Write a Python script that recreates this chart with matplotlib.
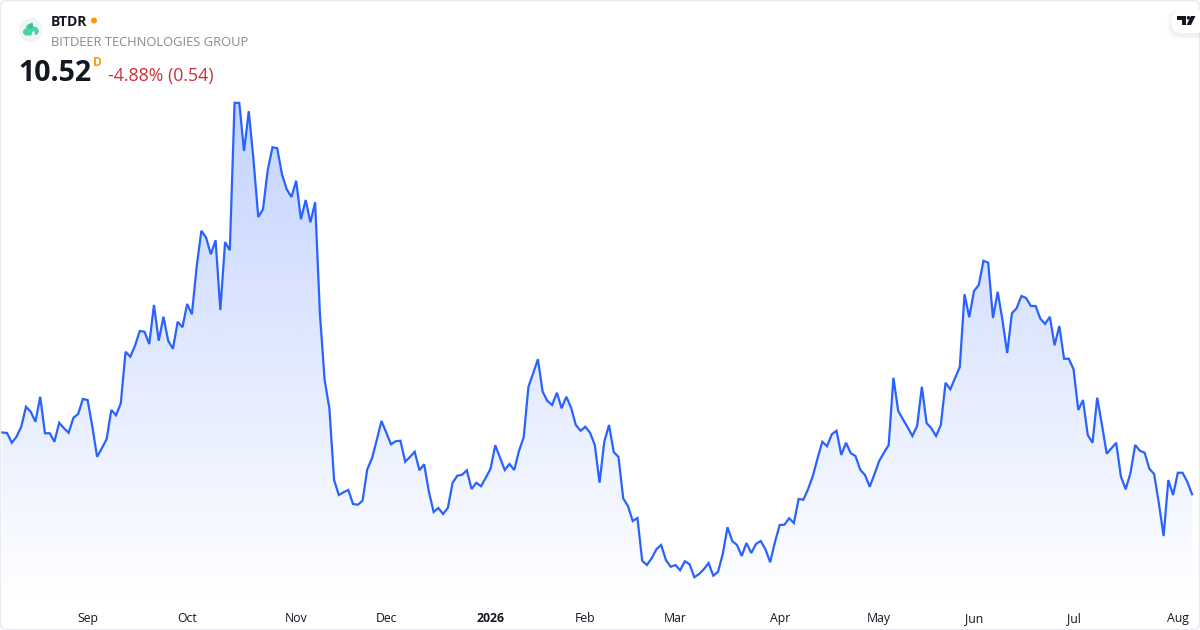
import matplotlib
matplotlib.use('Agg')
import matplotlib.pyplot as plt
import numpy as np
from matplotlib.patches import Circle, FancyBboxPatch, PathPatch, Polygon
from matplotlib.path import Path

# daily closes
prices = [
    12.99, 12.97, 12.58, 12.82, 13.22, 14.02, 13.82, 13.42, 14.42, 12.96, 12.96, 12.62,
    13.38, 13.16, 12.98, 13.58, 13.73, 14.33, 14.29, 13.22, 12.02, 12.36, 12.72, 13.89,
    13.68, 14.16, 16.22, 16.02, 16.46, 17.05, 17.02, 16.53, 18.09, 16.66, 17.62, 16.66,
    16.34, 17.42, 17.20, 18.13, 17.72, 19.62, 21.06, 20.78, 20.12, 20.68, 17.89, 20.61,
    20.28, 26.18, 26.17, 24.25, 25.84, 23.89, 21.61, 21.92, 23.49, 24.40, 24.36, 23.32,
    22.72, 22.41, 23.06, 21.52, 22.29, 21.40, 22.20, 17.76, 15.09, 13.96, 11.09, 10.49,
    10.60, 10.69, 10.13, 10.10, 10.26, 11.52, 11.96, 12.69, 13.45, 12.98, 12.52, 12.64,
    12.66, 11.82, 12.01, 12.22, 11.48, 11.72, 10.62, 9.81, 9.97, 9.73, 9.98, 10.98,
    11.26, 11.30, 11.48, 10.73, 10.98, 10.84, 11.18, 11.54, 12.48, 11.98, 11.49, 11.73,
    11.49, 12.25, 12.80, 14.82, 15.36, 15.92, 14.62, 14.25, 14.09, 14.58, 13.96, 14.42,
    13.98, 13.29, 13.06, 13.22, 12.98, 12.49, 10.98, 12.62, 13.29, 12.21, 12.01, 10.35,
    10.05, 9.45, 9.57, 7.86, 7.69, 7.96, 8.32, 8.49, 7.89, 7.62, 7.69, 7.48,
    7.84, 7.72, 7.20, 7.33, 7.52, 7.77, 7.26, 7.42, 8.13, 9.20, 8.65, 8.49,
    8.05, 8.57, 8.17, 8.53, 8.65, 8.32, 7.80, 8.60, 9.29, 9.30, 9.56, 9.37,
    10.33, 10.30, 10.73, 11.25, 11.96, 12.62, 12.44, 12.92, 13.06, 12.09, 12.58, 12.16,
    12.05, 11.50, 11.29, 10.82, 11.32, 11.85, 12.18, 12.49, 15.18, 13.86, 13.52, 13.20,
    12.85, 13.25, 14.82, 13.37, 13.16, 12.85, 13.29, 14.98, 14.72, 15.16, 15.61, 18.52,
    17.60, 18.65, 18.89, 19.86, 19.78, 17.57, 18.62, 17.49, 16.17, 17.76, 17.96, 18.45,
    18.37, 18.05, 18.05, 17.54, 17.33, 17.62, 16.48, 17.25, 15.94, 15.94, 15.52, 13.89,
    14.29, 12.89, 12.58, 14.38, 13.29, 12.14, 12.36, 12.58, 11.22, 10.72, 11.36, 12.49,
    12.26, 12.18, 11.54, 11.33, 10.16, 8.85, 11.09, 10.49, 11.38, 11.38, 11.02, 10.52,
]

# month labels and the bar they sit on
tick_bars = [18, 39, 62, 81, 103, 123, 142, 164, 185, 205, 226, 248]
tick_labels = ['Sep', 'Oct', 'Nov', 'Dec', '2026', 'Feb', 'Mar', 'Apr', 'May', 'Jun', 'Jul', 'Aug']

symbol = 'BTDR'
company = 'BITDEER TECHNOLOGIES GROUP'
last_price = '10.52'
change_text = '-4.88% (0.54)'

plt.rcParams['font.family'] = ['Open Sans', 'Noto Sans', 'DejaVu Sans']

LINE = '#2962FF'
FIG_W, FIG_H = 1200, 630
PLOT_BOTTOM = 602  # pixel row where the gradient runs out

fig = plt.figure(figsize=(12, 6.3), dpi=100, facecolor='white')
ax = fig.add_axes([0, (FIG_H - PLOT_BOTTOM) / FIG_H, 1, PLOT_BOTTOM / FIG_H])
ax.patch.set_alpha(0)

bars = np.arange(len(prices))
ax.set_xlim(-0.485, 252.68)
ax.set_ylim(6.21, 30.29)

# area under the line: vertical gradient clipped to the price polygon
y_low = ax.get_ylim()[0]
top = max(prices)
grad = np.zeros((256, 2, 4))
grad[..., :3] = matplotlib.colors.to_rgb(LINE)
grad[..., 3] = np.linspace(0.28, 0.0, 256)[:, None]
im = ax.imshow(grad, extent=(bars[0], bars[-1], y_low, top), origin='upper',
               aspect='auto', zorder=1, interpolation='bilinear')
verts = [(bars[0], y_low)] + list(zip(bars, prices)) + [(bars[-1], y_low), (bars[0], y_low)]
clip = PathPatch(Path(verts), transform=ax.transData, facecolor='none', edgecolor='none')
ax.add_patch(clip)
im.set_clip_path(clip)
ax.set_xlim(-0.485, 252.68)
ax.set_ylim(6.21, 30.29)

ax.plot(bars, prices, color=LINE, linewidth=1.6, zorder=2, solid_joinstyle='miter')

ax.set_xticks(tick_bars)
ax.set_xticklabels(tick_labels, fontsize=8.8, color='#131722')
ax.tick_params(axis='x', length=0, pad=7.5)
ax.get_xticklabels()[4].set_fontweight('bold')
ax.set_yticks([])
for spine in ax.spines.values():
    spine.set_visible(False)

# overlay in pixel coordinates for the header, logo and frame
ov = fig.add_axes([0, 0, 1, 1])
ov.set_xlim(0, FIG_W)
ov.set_ylim(FIG_H, 0)
ov.axis('off')
ov.patch.set_alpha(0)

ov.add_patch(FancyBboxPatch((0.5, 0.5), 1199, 629, boxstyle='round,pad=0,rounding_size=6',
                            facecolor='none', edgecolor='#e9ebf0', linewidth=1.0))

# company logo
ov.add_patch(Circle((31, 30), 12, facecolor='#f0f3fa', edgecolor='none'))
for cx, cy, r in [(26.5, 32, 3.5), (29.5, 27.5, 3.5), (34.5, 31, 4.2), (30, 32.5, 3.2)]:
    ov.add_patch(Circle((cx, cy), r, facecolor='#4ad3a0', edgecolor='none'))
ov.add_patch(Polygon([(29, 24), (32.5, 22.5), (33.5, 28), (29, 29)], facecolor='#35c48e', edgecolor='none'))
ov.add_patch(Polygon([(31.5, 36), (32, 32), (34.5, 31), (35, 36)], facecolor='#f0f3fa', edgecolor='none'))

ov.text(51, 22, symbol, fontsize=10, fontweight='bold', color='#131722', va='center', ha='left')
ov.add_patch(Circle((94, 20.5), 3, facecolor='#ff9800', edgecolor='none'))
ov.text(51, 42.5, company, fontsize=9.3, color='#868993', va='center', ha='left')
ov.text(18, 73.5, last_price, fontsize=20.5, fontweight='bold', color='#131722', va='center', ha='left')
ov.text(93, 62, 'D', fontsize=8.6, fontweight='bold', color='#ff9800', va='center', ha='left')
ov.text(108, 75.5, change_text, fontsize=12.8, color='#cc2f3c', va='center', ha='left')

# TradingView badge, soft shadow underneath
for pad, alpha in [(4, 0.008), (3, 0.012), (2, 0.016), (1, 0.02)]:
    ov.add_patch(FancyBboxPatch((1171 - pad, 11 - pad + 2), 40 + pad, 23 + 2 * pad,
                                boxstyle='round,pad=0,rounding_size=11', facecolor='black',
                                edgecolor='none', alpha=alpha))
ov.add_patch(FancyBboxPatch((1171, 10), 40, 23, boxstyle='round,pad=0,rounding_size=11',
                            facecolor='white', edgecolor='none'))
ov.add_patch(Polygon([(1177, 16), (1186, 16), (1186, 25), (1182, 25), (1182, 19.5), (1177, 19.5)],
                     facecolor='#131722', edgecolor='none'))
ov.add_patch(Circle((1188.5, 17.8), 1.8, facecolor='#131722', edgecolor='none'))
ov.add_patch(Polygon([(1191, 16), (1195.5, 16), (1191, 25), (1186.5, 25)],
                     facecolor='#131722', edgecolor='none'))
ov.add_patch(Polygon([(1199.5, 0), (1200, 0), (1200, 40), (1199.5, 40)], facecolor='#e9ebf0', edgecolor='none'))

fig.savefig('out.png', dpi=100)
